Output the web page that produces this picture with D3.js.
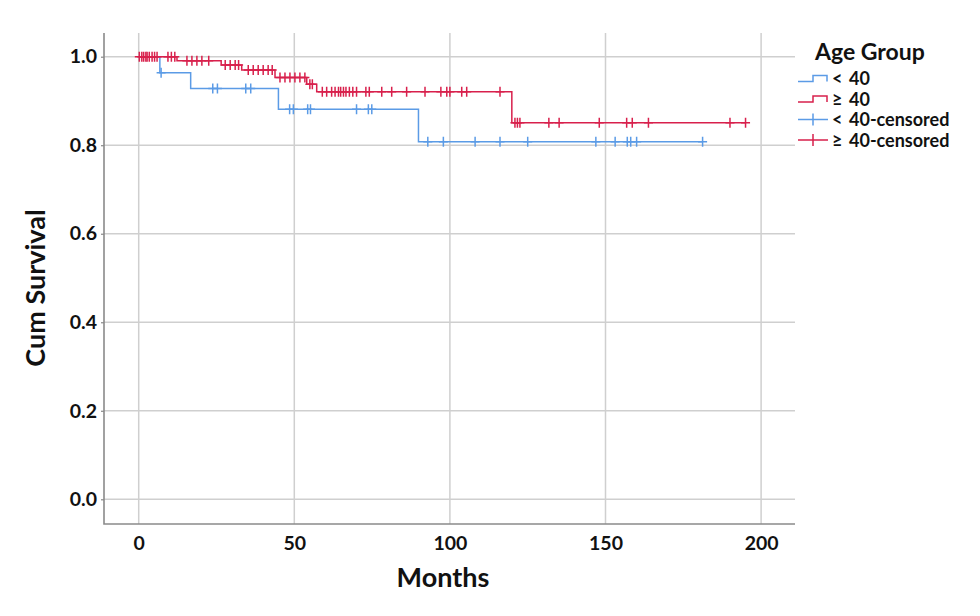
<!DOCTYPE html>
<html>
<head>
<meta charset="utf-8">
<script src="https://cdn.jsdelivr.net/npm/d3@7"></script>
<style>
  body { margin: 0; background: #fff; }
  svg { font-family: Lato, "Open Sans", sans-serif; font-weight: bold; }
</style>
</head>
<body>
<div id="chart"></div>
<script>
// Kaplan-Meier steps: [months, cum survival]
const youngSteps = [[0, 1.0], [6.8, 0.964], [16.7, 0.928], [44.9, 0.881], [89.9, 0.808]];
const youngEnd = 181.2;
const youngCensored = [7.2, 23.8, 25.3, 34.4, 36.0, 48.5, 49.7, 54.3, 55.2, 70.0, 73.8, 74.9,
    92.9, 97.9, 108.1, 116.1, 125.0, 146.9, 153.1, 157.0, 158.1, 160.0, 181.2];

const oldSteps = [[0, 1.0], [12.3, 0.991], [26.5, 0.981], [33.1, 0.970], [43.8, 0.953],
    [54.0, 0.938], [57.2, 0.921], [119.9, 0.851]];
const oldEnd = 195.0;
const oldCensored = [0.2, 1.0, 1.6, 2.3, 2.7, 3.4, 4.3, 5.1, 5.9, 9.4, 10.5, 11.6,
    15.5, 17.1, 18.7, 20.3, 22.5, 27.8, 29.4, 31.0, 32.1, 35.2, 36.8, 38.4, 40.0, 41.6, 42.9,
    45.4, 47.0, 48.6, 50.2, 51.8, 53.4, 55.0, 55.8, 59.0, 60.4, 62.0, 63.1, 64.2, 64.9, 65.8,
    66.6, 67.7, 68.8, 70.0, 73.0, 74.1, 78.1, 81.3, 86.1, 92.0, 97.1, 99.0, 100.0, 103.8,
    105.4, 116.1, 120.9, 121.7, 122.5, 131.8, 135.1, 148.0, 156.8, 158.6, 163.8, 190.0, 195.0];

const xTicks = [0, 50, 100, 150, 200];
const yTicks = [0, 0.2, 0.4, 0.6, 0.8, 1.0];
const legendSymbols = ["<", "\u2265", "<", "\u2265"];
const legendLabels = ["40", "40", "40-censored", "40-censored"];

const colors = { young: "#5b9be6", old: "#d8204c" };
const W = 980, H = 616;
const frame = { left: 104, right: 795, top: 33, bottom: 524 };

const x = d3.scaleLinear().domain([0, 200]).range([138.7, 761.1]);
const y = d3.scaleLinear().domain([0, 1]).range([499.3, 56.7]);

const svg = d3.select("#chart").append("svg").attr("width", W).attr("height", H);

// grid
svg.append("g").selectAll("line").data(xTicks).enter().append("line")
    .attr("x1", d => x(d)).attr("x2", d => x(d))
    .attr("y1", frame.top).attr("y2", frame.bottom)
    .attr("stroke", "#cfcfcf").attr("stroke-width", 1.5);
svg.append("g").selectAll("line").data(yTicks).enter().append("line")
    .attr("x1", frame.left).attr("x2", frame.right)
    .attr("y1", d => y(d)).attr("y2", d => y(d))
    .attr("stroke", "#cfcfcf").attr("stroke-width", 1.5);

// axes
const yAxis = d3.axisLeft(y).tickValues(yTicks).tickFormat(d3.format(".1f")).tickSize(3).tickPadding(4);
const yG = svg.append("g").attr("transform", `translate(${frame.left},0)`).call(yAxis);
const xAxis = d3.axisBottom(x).tickValues(xTicks).tickSize(0).tickPadding(12);
const xG = svg.append("g").attr("transform", `translate(0,${frame.bottom})`).call(xAxis);
[yG, xG].forEach(g => {
    g.select(".domain").remove();
    g.selectAll(".tick line").attr("stroke", "#888").attr("stroke-width", 1.2);
    g.selectAll("text").attr("fill", "#111").style("font-size", "19.5px")
        .style("font-family", "Lato, sans-serif").style("font-weight", "bold");
});
svg.append("path")
    .attr("d", `M${frame.left},${frame.top}V${frame.bottom}H${frame.right}`)
    .attr("fill", "none").attr("stroke", "#8a8a8a").attr("stroke-width", 1.6);

// axis titles
svg.append("text").attr("x", 443).attr("y", 587).attr("text-anchor", "middle")
    .style("font-size", "27px").attr("fill", "#111").text("Months");
svg.append("text").attr("transform", "translate(45,288) rotate(-90)").attr("text-anchor", "middle")
    .style("font-size", "27px").attr("fill", "#111").text("Cum Survival");

// curves
function stepPath(steps, end) {
    const pts = steps.map(s => [s[0], s[1]]);
    pts.push([end, steps[steps.length - 1][1]]);
    return d3.line().x(d => x(d[0])).y(d => y(d[1])).curve(d3.curveStepAfter)(pts);
}
function survivalAt(steps, t) {
    let s = steps[0][1];
    steps.forEach(d => { if (d[0] <= t) s = d[1]; });
    return s;
}
function drawGroup(steps, end, censored, color) {
    const g = svg.append("g");
    g.append("path").attr("d", stepPath(steps, end))
        .attr("fill", "none").attr("stroke", color).attr("stroke-width", 1.5);
    g.selectAll("path.cens").data(censored).enter().append("path").attr("class", "cens")
        .attr("d", t => {
            const cx = x(t), cy = y(survivalAt(steps, t));
            return `M${cx - 4.5},${cy}H${cx + 4.5}M${cx},${cy - 5}V${cy + 5}`;
        })
        .attr("fill", "none").attr("stroke", color).attr("stroke-width", 1.5);
}
drawGroup(youngSteps, youngEnd, youngCensored, colors.young);
drawGroup(oldSteps, oldEnd, oldCensored, colors.old);

// legend
svg.append("text").attr("x", 815).attr("y", 60).style("font-size", "23px")
    .attr("fill", "#111").text("Age Group");
const legendRows = [78.5, 99, 119.5, 140];
const legendColors = [colors.young, colors.old, colors.young, colors.old];
legendLabels.forEach((label, i) => {
    const cy = legendRows[i];
    const icon = i < 2
        ? `M798,${cy + 3}H813V${cy - 3}H827V${cy + 3}`
        : `M798,${cy}H828M813,${cy - 6}V${cy + 6}`;
    svg.append("path").attr("d", icon).attr("fill", "none")
        .attr("stroke", legendColors[i]).attr("stroke-width", 1.5);
    const t = svg.append("text").attr("y", cy + 6.5).style("font-size", "18px").attr("fill", "#111");
    t.append("tspan").attr("x", 832).text(legendSymbols[i]);
    t.append("tspan").attr("x", 849).text(label);
});
</script>
</body>
</html>
